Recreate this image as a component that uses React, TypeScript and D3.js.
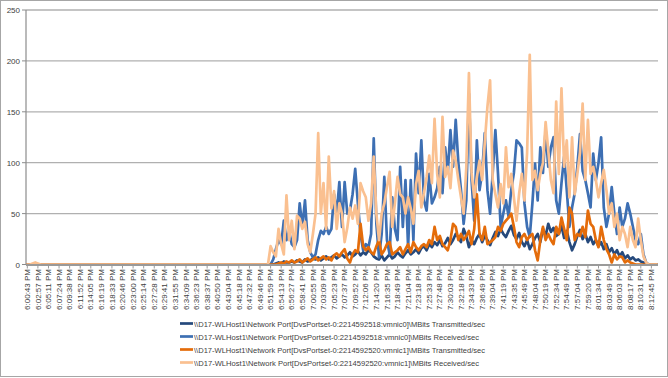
import React from 'react';
import * as d3 from 'd3';

const timeLabels = [
  '6:00:43 PM', '6:02:57 PM', '6:05:11 PM', '6:07:24 PM', '6:09:38 PM', '6:11:52 PM', '6:14:05 PM', '6:16:19 PM',
  '6:18:33 PM', '6:20:46 PM', '6:23:00 PM', '6:25:14 PM', '6:27:28 PM', '6:29:41 PM', '6:31:55 PM', '6:34:09 PM',
  '6:36:23 PM', '6:38:37 PM', '6:40:50 PM', '6:43:04 PM', '6:45:18 PM', '6:47:32 PM', '6:49:46 PM', '6:51:59 PM',
  '6:54:13 PM', '6:56:27 PM', '6:58:41 PM', '7:00:55 PM', '7:03:09 PM', '7:05:23 PM', '7:07:37 PM', '7:09:52 PM',
  '7:12:06 PM', '7:14:20 PM', '7:16:35 PM', '7:18:49 PM', '7:21:04 PM', '7:23:18 PM', '7:25:33 PM', '7:27:48 PM',
  '7:30:03 PM', '7:32:18 PM', '7:34:33 PM', '7:36:49 PM', '7:39:04 PM', '7:41:19 PM', '7:43:35 PM', '7:45:49 PM',
  '7:48:04 PM', '7:50:19 PM', '7:52:34 PM', '7:54:49 PM', '7:57:04 PM', '7:59:20 PM', '8:01:34 PM', '8:03:49 PM',
  '8:06:03 PM', '8:08:17 PM', '8:10:31 PM', '8:12:45 PM',
];

// samples between consecutive time labels
const samplesPerLabel = 4;

const yTicks = [0, 50, 100, 150, 200, 250];

// vmnic0 MBits Transmitted/sec
const vmnic0Transmitted = [
  0, 0, 0, 0, 0, 0, 0, 0, 0, 0, 0, 0, 0, 0, 0, 0, 0, 0, 0, 0,
  0, 0, 0, 0, 0, 0, 0, 0, 0, 0, 0, 0, 0, 0, 0, 0, 0, 0, 0, 0,
  0, 0, 0, 0, 0, 0, 0, 0, 0, 0, 0, 0, 0, 0, 0, 0, 0, 0, 0, 0,
  0, 0, 0, 0, 0, 0, 0, 0, 0, 0, 0, 0, 0, 0, 0, 0, 0, 0, 0, 0,
  0, 0, 0, 0, 0, 0, 0, 0, 0, 0, 0, 0,
  0, 0, 1, 2, 1, 3, 2, 2, 3, 2,
  4, 3, 2, 5, 3, 4, 6, 5, 7, 4,
  6, 8, 5, 7, 9, 6, 8, 10, 7, 9,
  12, 8, 10, 13, 9, 12, 10, 14, 12, 8,
  6, 5, 9, 4, 7, 10, 6, 8, 12, 9,
  7, 11, 14, 10, 12, 15, 11, 16, 18, 14,
  20, 17, 22, 19, 24, 18, 21, 26, 20, 24,
  30, 27, 22, 35, 28, 17, 24, 20, 26, 30,
  22, 28, 24, 19, 26, 32, 28, 35, 30, 27,
  33, 38, 29, 25, 31, 22, 18, 24, 15, 20,
  26, 30, 22, 35, 28, 40, 32, 36, 28, 30,
  38, 26, 33, 22, 14, 20, 28, 34, 25, 30,
  22, 27, 20, 24, 18, 22, 15, 20, 12, 16,
  10, 14, 8, 12, 6, 9, 5, 7, 4, 5,
  3, 2, 0, 0, 0, 0, 0,
];

// vmnic0 MBits Received/sec
const vmnic0Received = [
  0, 0, 0, 0, 0, 0, 0, 0, 0, 0, 0, 0, 0, 0, 0, 0, 0, 0, 0, 0,
  0, 0, 0, 0, 0, 0, 0, 0, 0, 0, 0, 0, 0, 0, 0, 0, 0, 0, 0, 0,
  0, 0, 0, 0, 0, 0, 0, 0, 0, 0, 0, 0, 0, 0, 0, 0, 0, 0, 0, 0,
  0, 0, 0, 0, 0, 0, 0, 0, 0, 0, 0, 0, 0, 0, 0, 0, 0, 0, 0, 0,
  0, 0, 0, 0, 0, 0, 0, 0, 0, 0, 0, 0,
  0, 5, 15, 24, 20, 43, 24, 33, 20, 17,
  24, 60, 37, 63, 24, 12, 7, 10, 24, 33,
  30, 37, 30, 35, 69, 50, 81, 37, 81, 50,
  53, 69, 94, 60, 30, 14, 20, 17, 30, 124,
  40, 7, 30, 86, 24, 10, 66, 35, 24, 96,
  37, 83, 17, 83, 24, 109, 70, 122, 63, 53,
  89, 60, 66, 75, 96, 70, 115, 90, 132, 96,
  142, 100, 73, 40, 63, 168, 83, 43, 122, 73,
  90, 129, 73, 50, 90, 132, 89, 37, 50, 63,
  47, 73, 90, 122, 119, 115, 60, 37, 27, 60,
  99, 63, 115, 90, 132, 96, 115, 125, 63, 50,
  80, 106, 73, 37, 56, 70, 96, 128, 92, 83,
  70, 56, 109, 83, 100, 125, 56, 37, 50, 76,
  50, 30, 56, 37, 45, 60, 50, 37, 24, 20,
  30, 10, 2, 0, 0, 0, 0,
];

// vmnic1 MBits Transmitted/sec
const vmnic1Transmitted = [
  0, 0, 0, 0, 0, 0, 0, 0, 0, 0, 0, 0, 0, 0, 0, 0, 0, 0, 0, 0,
  0, 0, 0, 0, 0, 0, 0, 0, 0, 0, 0, 0, 0, 0, 0, 0, 0, 0, 0, 0,
  0, 0, 0, 0, 0, 0, 0, 0, 0, 0, 0, 0, 0, 0, 0, 0, 0, 0, 0, 0,
  0, 0, 0, 0, 0, 0, 0, 0, 0, 0, 0, 0, 0, 0, 0, 0, 0, 0, 0, 0,
  0, 0, 0, 0, 0, 0, 0, 0, 0, 0, 0, 0,
  0, 0, 0, 1, 2, 1, 3, 2, 4, 2,
  3, 5, 2, 4, 6, 3, 5, 7, 4, 6,
  8, 5, 7, 4, 9, 11, 8, 12, 15, 6,
  2, 10, 14, 12, 40, 18, 14, 17, 12, 10,
  18, 24, 10, 14, 20, 22, 10, 12, 14, 17,
  10, 15, 20, 12, 22, 17, 14, 18, 20, 17,
  24, 20, 37, 24, 28, 20, 17, 14, 24, 40,
  37, 24, 30, 24, 28, 33, 20, 35, 69, 30,
  24, 37, 20, 22, 24, 27, 37, 33, 40, 43,
  46, 50, 37, 22, 17, 27, 30, 24, 28, 30,
  14, 4, 24, 37, 24, 30, 24, 20, 37, 30,
  46, 35, 24, 56, 50, 24, 30, 28, 37, 27,
  53, 40, 37, 24, 17, 37, 24, 15, 10, 2,
  10, 5, 8, 7, 2, 4, 2, 1, 0, 0,
  0, 0, 0, 0, 0, 0, 0,
];

// vmnic1 MBits Received/sec
const vmnic1Received = [
  0, 0, 1, 2, 1, 0, 0, 0, 0, 0, 0, 0, 0, 0, 0, 0, 0, 0, 0, 0,
  0, 0, 0, 0, 0, 0, 0, 0, 0, 0, 0, 0, 0, 0, 0, 0, 0, 0, 0, 0,
  0, 0, 0, 0, 0, 0, 0, 0, 0, 0, 0, 0, 0, 0, 0, 0, 0, 0, 0, 0,
  0, 0, 0, 0, 0, 0, 0, 0, 0, 0, 0, 0, 0, 0, 0, 0, 0, 0, 0, 0,
  0, 0, 0, 0, 0, 0, 0, 0, 0, 0, 0, 0,
  18, 12, 8, 35, 20, 10, 68, 24, 43, 15,
  48, 45, 35, 42, 20, 12, 30, 50, 129, 50,
  80, 35, 106, 55, 72, 35, 60, 50, 22, 36,
  56, 45, 58, 40, 80, 72, 66, 43, 60, 106,
  50, 24, 50, 60, 76, 91, 37, 60, 86, 69,
  66, 50, 66, 55, 40, 79, 92, 56, 70, 86,
  107, 80, 143, 89, 66, 145, 86, 96, 75, 112,
  102, 83, 66, 50, 95, 188, 90, 66, 86, 102,
  83, 120, 155, 181, 83, 69, 56, 79, 60, 115,
  76, 89, 66, 43, 70, 89, 63, 110, 206, 83,
  92, 73, 89, 100, 140, 112, 83, 70, 160, 89,
  173, 96, 122, 66, 125, 69, 89, 110, 158, 83,
  142, 89, 96, 83, 66, 80, 93, 73, 50, 60,
  37, 50, 24, 37, 30, 17, 37, 24, 17, 45,
  24, 8, 2, 0, 0, 0, 0,
];

const seriesNames = [
  '\\\\D17-WLHost1\\Network Port[DvsPortset-0:2214592518:vmnic0]\\MBits Transmitted/sec',
  '\\\\D17-WLHost1\\Network Port[DvsPortset-0:2214592518:vmnic0]\\MBits Received/sec',
  '\\\\D17-WLHost1\\Network Port[DvsPortset-0:2214592520:vmnic1]\\MBits Transmitted/sec',
  '\\\\D17-WLHost1\\Network Port[DvsPortset-0:2214592520:vmnic1]\\MBits Received/sec',
];

const seriesColors = ['#25497c', '#3d6fb3', '#e46c0a', '#fac090'];
const seriesData = [vmnic0Transmitted, vmnic0Received, vmnic1Transmitted, vmnic1Received];

export default function App() {
  const W = 668;
  const H = 378;
  const left = 26;
  const right = 658;
  const top = 10;
  const bottom = 264.5;
  const N = vmnic1Received.length;

  const x = d3.scaleLinear().domain([-0.5, N - 0.5]).range([left, right]);
  const y = d3.scaleLinear().domain([0, 250]).range([bottom, top]);
  const line = d3
    .line<number>()
    .x((_, i) => x(i))
    .y((d) => y(d));

  const font = '"Liberation Sans", Arial, sans-serif';

  return (
    <svg
      width={W}
      height={H}
      style={{ position: 'absolute', left: 0, top: 0, background: '#fff' }}
      fontFamily={font}
    >
      <rect x={0.5} y={0.5} width={W - 1} height={H - 2} fill="#fff" stroke="#a6a6a6" strokeWidth={1} />
      {/* gridlines */}
      {yTicks.slice(1).map((t) => (
        <line key={t} x1={left} x2={right} y1={y(t)} y2={y(t)} stroke="#b0b0b0" strokeWidth={1.3} />
      ))}
      {/* y axis */}
      <line x1={left} x2={left} y1={top} y2={bottom} stroke="#8c8c8c" strokeWidth={1.2} />
      {yTicks.map((t) => (
        <g key={'yt' + t}>
          <line x1={left - 4} x2={left} y1={y(t)} y2={y(t)} stroke="#8c8c8c" strokeWidth={1} />
          <text x={20} y={y(t) + 3} textAnchor="end" fontSize={8} fill="#404040">
            {t}
          </text>
        </g>
      ))}
      {/* series */}
      {seriesData.map((s, k) => (
        <path
          key={'s' + k}
          d={line(s) || ''}
          fill="none"
          stroke={seriesColors[k]}
          strokeWidth={2.7}
          strokeLinejoin="round"
          strokeLinecap="round"
        />
      ))}
      {/* x axis */}
      <line x1={left} x2={right} y1={bottom + 0.5} y2={bottom + 0.5} stroke="#9a9a9a" strokeWidth={1.8} />
      {timeLabels.map((lab, i) => {
        const xi = x(i * samplesPerLabel);
        return (
          <g key={'xl' + i}>
            <line x1={xi} x2={xi} y1={bottom} y2={bottom + 4} stroke="#9a9a9a" strokeWidth={1} />
            <text
              transform={`translate(${xi},269) rotate(-90)`}
              textAnchor="end"
              dy="0.33em"
              fontSize={8}
              fill="#404040"
            >
              {lab}
            </text>
          </g>
        );
      })}
      {/* legend */}
      {seriesNames.map((name, k) => {
        const ly = 323.5 + k * 13;
        return (
          <g key={'lg' + k}>
            <line x1={180} x2={193} y1={ly} y2={ly} stroke={seriesColors[k]} strokeWidth={2.7} />
            <text
              x={194}
              y={ly + 3}
              fontSize={8}
              fill="#404040"
              textLength={name.includes('Transmitted') ? 291 : 285}
              lengthAdjust="spacingAndGlyphs"
            >
              {name}
            </text>
          </g>
        );
      })}
    </svg>
  );
}
